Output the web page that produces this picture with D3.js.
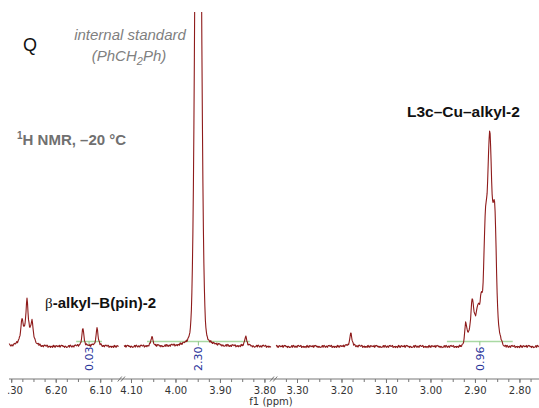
<!DOCTYPE html>
<html>
<head>
<meta charset="utf-8">
<script src="https://cdn.jsdelivr.net/npm/d3@7"></script>
<style>
  body { margin: 0; background: #fff; }
  svg { display: block; }
</style>
</head>
<body>
<svg id="chart" width="539" height="408"></svg>
<script>
// Broken ppm axis: three windows, high to low chemical shift
const segments = [[6.305, 6.058], [4.116, 3.785], [3.347, 2.756]];
const majorTicks = [[6.30, 6.20, 6.10], [4.10, 4.00, 3.90, 3.80], [3.30, 3.20, 3.10, 3.00, 2.90, 2.80]];

// Lorentzian lines: centre (ppm), height (rel. intensity), half-width (ppm)
const lorentzPpm    = [6.315, 6.276, 6.2645, 6.253, 6.139, 6.107, 4.053, 3.949, 3.842, 3.179];
const lorentzHeight = [3.0,   8.4,   15.4,   7.5,   8.9,   9.3,   4.7,   20.0,  4.7,   7.0];
const lorentzWidth  = [0.005, 0.0025, 0.0025, 0.0025, 0.0025, 0.0025, 0.0025, 0.010, 0.0025, 0.0025];

// Gaussian components: centre (ppm), height, sigma (ppm)
const gaussPpm    = [6.265, 3.949, 2.8668, 2.8769, 2.8555, 2.8668, 2.8466, 2.9207, 2.9061, 2.9005, 2.8926, 2.8859];
const gaussHeight = [6.5,   362,   51.4,   37.4,   46.7,   47.9,   5.6,    8.4,    10.3,   14.0,   8.4,    15.0];
const gaussSigma  = [0.012, 0.0058, 0.00404, 0.00337, 0.0036, 0.00787, 0.0056, 0.00225, 0.00247, 0.01124, 0.0027, 0.0027];

// Baseline noise offsets (rel. intensity)
const noise = [0.3, -0.4, 0.1, 0.5, -0.2, -0.5, 0.2, 0.4, -0.1, -0.3, 0.5, 0.0, -0.4, 0.3, -0.2, 0.1, 0.4, -0.5,
               0.2, -0.1, 0.3, -0.3, 0.0, 0.5, -0.4, 0.1, -0.2, 0.4, -0.5, 0.2, 0.3, -0.1, -0.4, 0.5, 0.1, -0.3,
               0.2, -0.2, 0.4, 0.0, -0.5, 0.3, 0.1, -0.4, 0.2, 0.5, -0.3, -0.1, 0.4, -0.2, 0.1, -0.5, 0.3, 0.2,
               -0.3, 0.4, -0.1, 0.0, -0.4, 0.5, -0.2];

// Integrals: region limits (ppm) and values
const integralFrom  = [6.154, 4.064, 2.963];
const integralTo    = [6.096, 3.833, 2.815];
const integralValue = ["0.03", "2.30", "0.96"];

const svg = d3.select("#chart");
const W = 539, H = 408;
const left = 9, right = 539, gap = 5;
const plotTop = 12, axisY = 379;

// one x scale per axis window
const spanTotal = d3.sum(segments, s => s[0] - s[1]);
const pxPerPpm = (right - left - gap * (segments.length - 1)) / spanTotal;
let cursor = left;
const xScales = segments.map(s => {
  const w = (s[0] - s[1]) * pxPerPpm;
  const sc = d3.scaleLinear().domain(s).range([cursor, cursor + w]);
  cursor += w + gap;
  return sc;
});

const y = d3.scaleLinear().domain([0, 100]).range([346.5, 132]);

function intensity(p) {
  let v = 0;
  for (let i = 0; i < lorentzPpm.length; i++) {
    const d = (p - lorentzPpm[i]) / lorentzWidth[i];
    v += lorentzHeight[i] / (1 + d * d);
  }
  for (let i = 0; i < gaussPpm.length; i++) {
    const d = (p - gaussPpm[i]) / gaussSigma[i];
    v += gaussHeight[i] * Math.exp(-0.5 * d * d);
  }
  return v;
}

svg.append("defs").append("clipPath").attr("id", "plotClip")
  .append("rect").attr("x", 0).attr("y", plotTop).attr("width", W).attr("height", axisY - plotTop);
svg.select("defs").append("clipPath").attr("id", "labelClip")
  .append("rect").attr("x", 7.5).attr("y", 0).attr("width", W).attr("height", H);

// integral bars
const integralGroup = svg.append("g");
const barY = y(0) - 5;
integralValue.forEach((val, i) => {
  const sc = xScales.find(s => integralFrom[i] <= s.domain()[0] && integralFrom[i] >= s.domain()[1]);
  const x1 = sc(integralFrom[i]), x2 = sc(integralTo[i]);
  const xm = sc((integralFrom[i] + integralTo[i]) / 2);
  integralGroup.append("line").attr("x1", x1).attr("x2", x2).attr("y1", barY).attr("y2", barY)
    .attr("stroke", "#a9d9a3").attr("stroke-width", 1.5);
  integralGroup.append("line").attr("x1", xm).attr("x2", xm).attr("y1", barY).attr("y2", barY + 4)
    .attr("stroke", "#8cc486").attr("stroke-width", 1);
  integralGroup.append("text")
    .attr("transform", `translate(${xm},${barY + 5}) rotate(-90)`)
    .attr("text-anchor", "end").attr("dy", "0.36em")
    .attr("font-family", "DejaVu Sans, sans-serif").attr("font-size", 11)
    .attr("fill", "#27329a").text(val);
});

// spectrum trace, one path per window
const specGroup = svg.append("g").attr("clip-path", "url(#plotClip)");
const line = d3.line().x(d => d[0]).y(d => d[1]);
let k = 0;
xScales.forEach(sc => {
  const [hi, lo] = sc.domain();
  const step = 0.5 / pxPerPpm;
  const pts = [];
  for (let p = hi; p >= lo - 1e-9; p -= step) {
    const v = intensity(p) + noise[k % noise.length];
    k += 3;
    pts.push([sc(p), y(v)]);
  }
  specGroup.append("path").attr("d", line(pts))
    .attr("fill", "none").attr("stroke", "#8e1b1b").attr("stroke-width", 1.1)
    .attr("stroke-linejoin", "round");
});

// x axis
const axisGroup = svg.append("g");
axisGroup.append("line").attr("x1", left).attr("x2", right).attr("y1", axisY).attr("y2", axisY)
  .attr("stroke", "#777").attr("stroke-width", 1);
const labelGroup = svg.append("g").attr("clip-path", "url(#labelClip)");
xScales.forEach((sc, i) => {
  const [hi, lo] = sc.domain();
  const minor = d3.range(Math.ceil(lo / 0.025 - 1e-6), Math.floor(hi / 0.025 + 1e-6) + 1).map(n => n * 0.025);
  const gMinor = axisGroup.append("g").attr("transform", `translate(0,${axisY})`)
    .call(d3.axisBottom(sc).tickValues(minor).tickSize(3).tickFormat(""));
  gMinor.select(".domain").remove();
  gMinor.selectAll("line").attr("stroke", "#777");
  const gMajor = labelGroup.append("g").attr("transform", `translate(0,${axisY})`)
    .call(d3.axisBottom(sc).tickValues(majorTicks[i]).tickSize(4).tickPadding(4).tickFormat(d3.format(".2f")));
  gMajor.select(".domain").remove();
  gMajor.selectAll("line").attr("stroke", "#777");
  gMajor.selectAll("text").attr("font-family", "DejaVu Sans, sans-serif").attr("font-size", 10).attr("fill", "#333");
});

// break marks between windows
xScales.slice(0, -1).forEach(sc => {
  const xb = sc.range()[1] + gap / 2;
  [-1.6, 1.6].forEach(off => {
    axisGroup.append("line")
      .attr("x1", xb + off - 2).attr("y1", axisY + 2.5)
      .attr("x2", xb + off + 2).attr("y2", axisY - 2.5)
      .attr("stroke", "#777").attr("stroke-width", 1);
  });
});

svg.append("text").attr("x", 271).attr("y", 405).attr("text-anchor", "middle")
  .attr("font-family", "DejaVu Sans, sans-serif").attr("font-size", 10).attr("fill", "#333")
  .text("f1 (ppm)");

// annotations
const sans = "Liberation Sans, Arial, Helvetica, sans-serif";
svg.append("text").attr("x", 23).attr("y", 51).attr("font-family", sans).attr("font-size", 18)
  .attr("fill", "#111").text("Q");

svg.append("text").attr("x", 130).attr("y", 40).attr("text-anchor", "middle")
  .attr("font-family", sans).attr("font-size", 15).attr("font-style", "italic").attr("fill", "#808080")
  .text("internal standard");
const ph = svg.append("text").attr("x", 129).attr("y", 61).attr("text-anchor", "middle")
  .attr("font-family", sans).attr("font-size", 15).attr("font-style", "italic").attr("fill", "#808080");
ph.append("tspan").text("(PhCH");
ph.append("tspan").attr("font-size", 11).attr("dy", 4).text("2");
ph.append("tspan").attr("dy", -4).text("Ph)");

const nmr = svg.append("text").attr("x", 17).attr("y", 145)
  .attr("font-family", sans).attr("font-size", 15).attr("font-weight", "bold").attr("fill", "#707070");
nmr.append("tspan").attr("font-size", 10).attr("dy", -6).text("1");
nmr.append("tspan").attr("dy", 6).text("H NMR, \u201320 \u00b0C");

svg.append("text").attr("x", 407).attr("y", 117)
  .attr("font-family", sans).attr("font-size", 15.5).attr("font-weight", "bold").attr("fill", "#111")
  .text("L3c\u2013Cu\u2013alkyl-2");

const beta = svg.append("text").attr("x", 45).attr("y", 308)
  .attr("font-family", sans).attr("font-size", 15).attr("font-weight", "bold").attr("fill", "#111");
beta.append("tspan").attr("font-family", "Liberation Serif, serif").attr("font-weight", "normal").text("\u03b2");
beta.append("tspan").text("-alkyl\u2013B(pin)-2");
</script>
</body>
</html>
